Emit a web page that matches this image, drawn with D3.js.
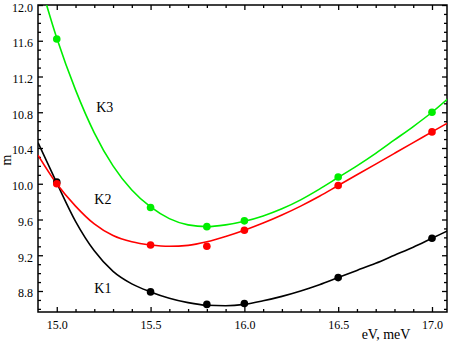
<!DOCTYPE html>
<html>
<head>
<meta charset="utf-8">
<script src="https://cdn.jsdelivr.net/npm/d3@7"></script>
<style>
  body { margin: 0; background: #fff; }
  svg { display: block; font-family: "Liberation Serif", "DejaVu Serif", serif; }
</style>
</head>
<body>
<svg id="chart"></svg>
<script>
// measured points
const evPts = [15.0, 15.5, 15.8, 16.0, 16.5, 17.0];
const k1Pts = [10.02, 8.79, 8.65, 8.66, 8.95, 9.39];
const k2Pts = [10.00, 9.315, 9.30, 9.48, 9.98, 10.58];
const k3Pts = [11.62, 9.735, 9.52, 9.585, 10.075, 10.80];

// fitted curves
const evFit = [14.9, 15.0, 15.1, 15.2, 15.3, 15.4, 15.5, 15.6, 15.7, 15.8, 15.9, 16.0,
               16.1, 16.2, 16.3, 16.4, 16.5, 16.6, 16.7, 16.8, 16.9, 17.0, 17.1];
const k1Fit = [10.46, 10.01, 9.58, 9.25, 9.02, 8.88, 8.79, 8.72, 8.67, 8.64, 8.635, 8.65,
               8.69, 8.74, 8.80, 8.87, 8.95, 9.03, 9.11, 9.20, 9.29, 9.39, 9.49];
const k2Fit = [10.32, 10.00, 9.75, 9.55, 9.42, 9.35, 9.315, 9.30, 9.31, 9.35, 9.41, 9.48,
               9.56, 9.65, 9.75, 9.86, 9.98, 10.10, 10.22, 10.34, 10.46, 10.58, 10.70];
const k3Fit = [12.33, 11.63, 11.05, 10.57, 10.20, 9.93, 9.74, 9.61, 9.54, 9.52, 9.54, 9.58,
               9.64, 9.72, 9.82, 9.94, 10.07, 10.20, 10.34, 10.49, 10.64, 10.80, 10.98];

const xTicks = [15.0, 15.5, 16.0, 16.5, 17.0];
const yTicks = [8.8, 9.2, 9.6, 10.0, 10.4, 10.8, 11.2, 11.6, 12.0];

const seriesNames = ['K1', 'K2', 'K3'];
const seriesColors = ['#000000', '#ff0000', '#00ee00'];
// where each name is written, in data units
const labelX = [15.2, 15.2, 15.21];
const labelY = [8.78, 9.77, 10.80];

const W = 452, H = 343;
const m = { left: 38, right: 447, top: 5, bottom: 312 };

const svg = d3.select('#chart').attr('width', W).attr('height', H);

const x = d3.scaleLinear().domain([14.9, 17.08]).range([m.left, m.right]);
const y = d3.scaleLinear().domain([8.565, 12.0]).range([m.bottom, m.top]);

svg.append('defs').append('clipPath').attr('id', 'plot')
  .append('rect').attr('x', m.left).attr('y', m.top)
  .attr('width', m.right - m.left).attr('height', m.bottom - m.top);

const xMinor = d3.range(15.0, 17.05, 0.1).filter(v => !xTicks.some(t => Math.abs(t - v) < 1e-6));
const yMinor = d3.range(8.6, 12.0, 0.1).filter(v => !yTicks.some(t => Math.abs(t - v) < 1e-6));

function styleAxis(g) {
  g.select('.domain').remove();
  g.selectAll('line').attr('stroke', '#000').attr('stroke-width', 1.3);
  g.selectAll('text').attr('font-size', 12).attr('fill', '#000')
    .attr('font-family', '"Liberation Serif", serif');
}

// bottom
svg.append('g').attr('transform', `translate(0,${m.bottom})`)
  .call(d3.axisBottom(x).tickValues(xTicks).tickSize(-5).tickPadding(8).tickFormat(d3.format('.1f')))
  .call(styleAxis);
svg.append('g').attr('transform', `translate(0,${m.bottom})`)
  .call(d3.axisBottom(x).tickValues(xMinor).tickSize(-3).tickFormat(''))
  .call(styleAxis);
// top
svg.append('g').attr('transform', `translate(0,${m.top})`)
  .call(d3.axisTop(x).tickValues(xTicks).tickSize(-5).tickFormat(''))
  .call(styleAxis);
svg.append('g').attr('transform', `translate(0,${m.top})`)
  .call(d3.axisTop(x).tickValues(xMinor).tickSize(-3).tickFormat(''))
  .call(styleAxis);
// left
svg.append('g').attr('transform', `translate(${m.left},0)`)
  .call(d3.axisLeft(y).tickValues(yTicks).tickSize(-5).tickPadding(5).tickFormat(d3.format('.1f')))
  .call(styleAxis)
  .selectAll('text').attr('dy', '0.5em');
svg.append('g').attr('transform', `translate(${m.left},0)`)
  .call(d3.axisLeft(y).tickValues(yMinor).tickSize(-3).tickFormat(''))
  .call(styleAxis);
// right
svg.append('g').attr('transform', `translate(${m.right},0)`)
  .call(d3.axisRight(y).tickValues(yTicks).tickSize(-5).tickFormat(''))
  .call(styleAxis);
svg.append('g').attr('transform', `translate(${m.right},0)`)
  .call(d3.axisRight(y).tickValues(yMinor).tickSize(-3).tickFormat(''))
  .call(styleAxis);

// frame
svg.append('rect')
  .attr('x', m.left).attr('y', m.top)
  .attr('width', m.right - m.left).attr('height', m.bottom - m.top)
  .attr('fill', 'none').attr('stroke', '#000').attr('stroke-width', 1.5);

const fits = [k1Fit, k2Fit, k3Fit];
const pts = [k1Pts, k2Pts, k3Pts];

const line = d3.line()
  .x(d => x(d[0]))
  .y(d => y(d[1]))
  .curve(d3.curveMonotoneX);

const curves = svg.append('g').attr('clip-path', 'url(#plot)');
fits.forEach((f, i) => {
  curves.append('path')
    .datum(evFit.map((e, j) => [e, f[j]]))
    .attr('d', line)
    .attr('fill', 'none')
    .attr('stroke', seriesColors[i])
    .attr('stroke-width', 1.6);
});

pts.forEach((p, i) => {
  svg.append('g').selectAll('circle')
    .data(evPts.map((e, j) => [e, p[j]]))
    .join('circle')
    .attr('cx', d => x(d[0]))
    .attr('cy', d => y(d[1]))
    .attr('r', 3.8)
    .attr('fill', seriesColors[i]);
});

svg.append('g').selectAll('text')
  .data(seriesNames)
  .join('text')
  .attr('x', (d, i) => x(labelX[i]))
  .attr('y', (d, i) => y(labelY[i]))
  .attr('font-size', 14)
  .attr('fill', '#000')
  .text(d => d);

svg.append('text')
  .attr('x', 386).attr('y', 339)
  .attr('text-anchor', 'middle')
  .attr('font-size', 14)
  .text('eV, meV');

svg.append('text')
  .attr('transform', 'translate(11,160) rotate(-90)')
  .attr('text-anchor', 'middle')
  .attr('font-size', 14)
  .text('m');
</script>
</body>
</html>
